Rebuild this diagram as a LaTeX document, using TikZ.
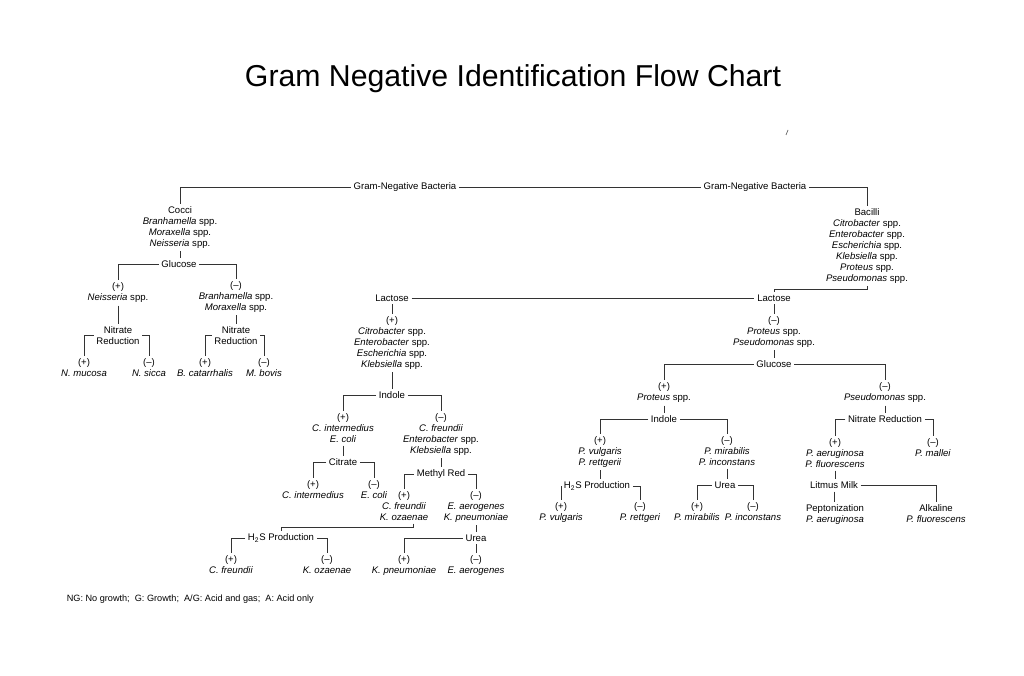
\documentclass[tikz,border=0pt]{standalone}
\usepackage{fontspec}
\setmainfont{Liberation Sans}
\usetikzlibrary{calc}

\tikzset{
 lbl/.style={font=\fontsize{6.8}{7.8}\selectfont, align=center, inner sep=0pt, outer sep=2pt, anchor=north},
 link/.style={line width=0.6pt, black!80},
}

\begin{document}
\begin{tikzpicture}[x=0.025cm, y=-0.025cm]
 \fill[white] (0,0) rectangle (1024,676); %背景
 \node[anchor=base, font=\fontsize{21.5}{24}\selectfont] (title) at (513,87) {Gram Negative Identification Flow Chart};
 \draw[black!60, line width=0.5pt] (786,135)--(788,130);

 % top
 \node[lbl] (gnbA) at (405,180) {Gram-Negative Bacteria};
 \node[lbl] (gnbB) at (755,180) {Gram-Negative Bacteria};
 \node[lbl] (cocci) at (180,204) {Cocci\\\textit{Branhamella} spp.\\\textit{Moraxella} spp.\\\textit{Neisseria} spp.};
 \node[lbl] (bac) at (867,206) {Bacilli\\\textit{Citrobacter} spp.\\\textit{Enterobacter} spp.\\\textit{Escherichia} spp.\\\textit{Klebsiella} spp.\\\textit{Proteus} spp.\\\textit{Pseudomonas} spp.};
 \draw[link] (gnbA.west) -| (cocci.north);
 \draw[link] (gnbA.east) -- (gnbB.west);
 \draw[link] (gnbB.east) -| (bac.north);

 % cocci
 \node[lbl] (glcA) at (179,258) {Glucose};
 \node[lbl] (cpos) at (118,280) {(+)\\\textit{Neisseria} spp.};
 \node[lbl] (cneg) at (236,279) {(--)\\\textit{Branhamella} spp.\\\textit{Moraxella} spp.};
 \node[lbl] (nrA) at (118,324) {Nitrate\\Reduction};
 \node[lbl] (nrB) at (236,324) {Nitrate\\Reduction};
 \node[lbl] (mucosa) at (84,356) {(+)\\\textit{N. mucosa}};
 \node[lbl] (sicca) at (149,356) {(--)\\\textit{N. sicca}};
 \node[lbl] (catarr) at (205,356) {(+)\\\textit{B. catarrhalis}};
 \node[lbl] (bovis) at (264,356) {(--)\\\textit{M. bovis}};
 \draw[link] (cocci.south) -- (cocci.south |- glcA.north);
 \draw[link] (glcA.west) -| (cpos.north);
 \draw[link] (glcA.east) -| (cneg.north);
 \draw[link] (cpos.south) -- (nrA.north);
 \draw[link] (cneg.south) -- (nrB.north);
 \draw[link] (nrA.west) -| (mucosa.north);
 \draw[link] (nrA.east) -| (sicca.north);
 \draw[link] (nrB.west) -| (catarr.north);
 \draw[link] (nrB.east) -| (bovis.north);

 % lactose (+)
 \node[lbl] (lacA) at (392,292) {Lactose};
 \node[lbl] (lacB) at (774,292) {Lactose};
 \node[lbl] (lpos) at (392,314) {(+)\\\textit{Citrobacter} spp.\\\textit{Enterobacter} spp.\\\textit{Escherichia} spp.\\\textit{Klebsiella} spp.};
 \node[lbl] (indA) at (392,389) {Indole};
 \node[lbl] (ipos) at (343,411) {(+)\\\textit{C. intermedius}\\\textit{E. coli}};
 \node[lbl] (ineg) at (441,411) {(--)\\\textit{C. freundii}\\\textit{Enterobacter} spp.\\\textit{Klebsiella} spp.};
 \node[lbl] (cit) at (343,456) {Citrate};
 \node[lbl] (citpos) at (313,478) {(+)\\\textit{C. intermedius}};
 \node[lbl] (citneg) at (374,478) {(--)\\\textit{E. coli}};
 \node[lbl] (mr) at (441,467) {Methyl Red};
 \node[lbl] (mrpos) at (404,489) {(+)\\\textit{C. freundii}\\\textit{K. ozaenae}};
 \node[lbl] (mrneg) at (476,489) {(--)\\\textit{E. aerogenes}\\\textit{K. pneumoniae}};
 \node[lbl] (h2sA) at (281,531) {H\textsubscript{2}S Production};
 \node[lbl] (ureaA) at (476,532) {Urea};
 \node[lbl] (hpos) at (231,553) {(+)\\\textit{C. freundii}};
 \node[lbl] (hneg) at (327,553) {(--)\\\textit{K. ozaenae}};
 \node[lbl] (upos) at (404,553) {(+)\\\textit{K. pneumoniae}};
 \node[lbl] (uneg) at (476,553) {(--)\\\textit{E. aerogenes}};
 \draw[link] (lacA.east) -- (lacB.west);
 \draw[link] (lacA.south) -- (lpos.north);
 \draw[link] (lpos.south) -- (indA.north);
 \draw[link] (indA.west) -| (ipos.north);
 \draw[link] (indA.east) -| (ineg.north);
 \draw[link] (ipos.south) -- (cit.north);
 \draw[link] (cit.west) -| (citpos.north);
 \draw[link] (cit.east) -| (citneg.north);
 \draw[link] (ineg.south) -- (mr.north);
 \draw[link] (mr.west) -| (mrpos.north);
 \draw[link] (mr.east) -| (mrneg.north);
 \draw[link] ([xshift=0.225cm]mrpos.south) -- ++(0,4) -| (h2sA.north);
 \draw[link] (mrneg.south) -- (ureaA.north);
 \draw[link] (h2sA.west) -| (hpos.north);
 \draw[link] (h2sA.east) -| (hneg.north);
 \draw[link] (ureaA.west) -| (upos.north);
 \draw[link] (ureaA.south) -- (uneg.north);

 % lactose (-)
 \node[lbl] (lneg) at (774,314) {(--)\\\textit{Proteus} spp.\\\textit{Pseudomonas} spp.};
 \node[lbl] (glcB) at (774,358) {Glucose};
 \node[lbl] (gpos) at (664,380) {(+)\\\textit{Proteus} spp.};
 \node[lbl] (gneg) at (885,380) {(--)\\\textit{Pseudomonas} spp.};
 \node[lbl] (indB) at (664,413) {Indole};
 \node[lbl] (ipB) at (600,434) {(+)\\\textit{P. vulgaris}\\\textit{P. rettgerii}};
 \node[lbl] (inB) at (727,434) {(--)\\\textit{P. mirabilis}\\\textit{P. inconstans}};
 \node[lbl] (h2sB) at (597,479) {H\textsubscript{2}S Production};
 \node[lbl] (ureaB) at (725,479) {Urea};
 \node[lbl] (hpB) at (561,500) {(+)\\\textit{P. vulgaris}};
 \node[lbl] (hnB) at (640,500) {(--)\\\textit{P. rettgeri}};
 \node[lbl] (upB) at (697,500) {(+)\\\textit{P. mirabilis}};
 \node[lbl] (unB) at (753,500) {(--)\\\textit{P. inconstans}};
 \node[lbl] (nrC) at (885,413) {Nitrate Reduction};
 \node[lbl] (npC) at (835,436) {(+)\\\textit{P. aeruginosa}\\\textit{P. fluorescens}};
 \node[lbl] (nnC) at (933,436) {(--)\\\textit{P. mallei}};
 \node[lbl] (lm) at (834,479) {Litmus Milk};
 \node[lbl] (pep) at (835,502) {Peptonization\\\textit{P. aeruginosa}};
 \node[lbl] (alk) at (936,502) {Alkaline\\\textit{P. fluorescens}};
 \draw[link] (bac.south) -- ++(0,3) -| (lacB.north);
 \draw[link] (lacB.south) -- (lneg.north);
 \draw[link] (lneg.south) -- (glcB.north);
 \draw[link] (glcB.west) -| (gpos.north);
 \draw[link] (glcB.east) -| (gneg.north);
 \draw[link] (gpos.south) -- (indB.north);
 \draw[link] (indB.west) -| (ipB.north);
 \draw[link] (indB.east) -| (inB.north);
 \draw[link] (ipB.south) -- (ipB.south |- h2sB.north);
 \draw[link] (h2sB.west) -| (hpB.north);
 \draw[link] (h2sB.east) -| (hnB.north);
 \draw[link] (inB.south) -- (inB.south |- ureaB.north);
 \draw[link] (ureaB.west) -| (upB.north);
 \draw[link] (ureaB.east) -| (unB.north);
 \draw[link] (gneg.south) -- (nrC.north);
 \draw[link] (nrC.west) -| (npC.north);
 \draw[link] (nrC.east) -| (nnC.north);
 \draw[link] (npC.south) -- (npC.south |- lm.north);
 \draw[link] (lm.east) -| (alk.north);
 \draw[link] (lm.south) -- (lm.south |- pep.north);

 \node[lbl, anchor=west, font=\fontsize{6.5}{7.8}\selectfont] (note) at (64,599) {NG: No growth;\ \ G: Growth;\ \ A/G: Acid and gas;\ \ A: Acid only};
\end{tikzpicture}
\end{document}
